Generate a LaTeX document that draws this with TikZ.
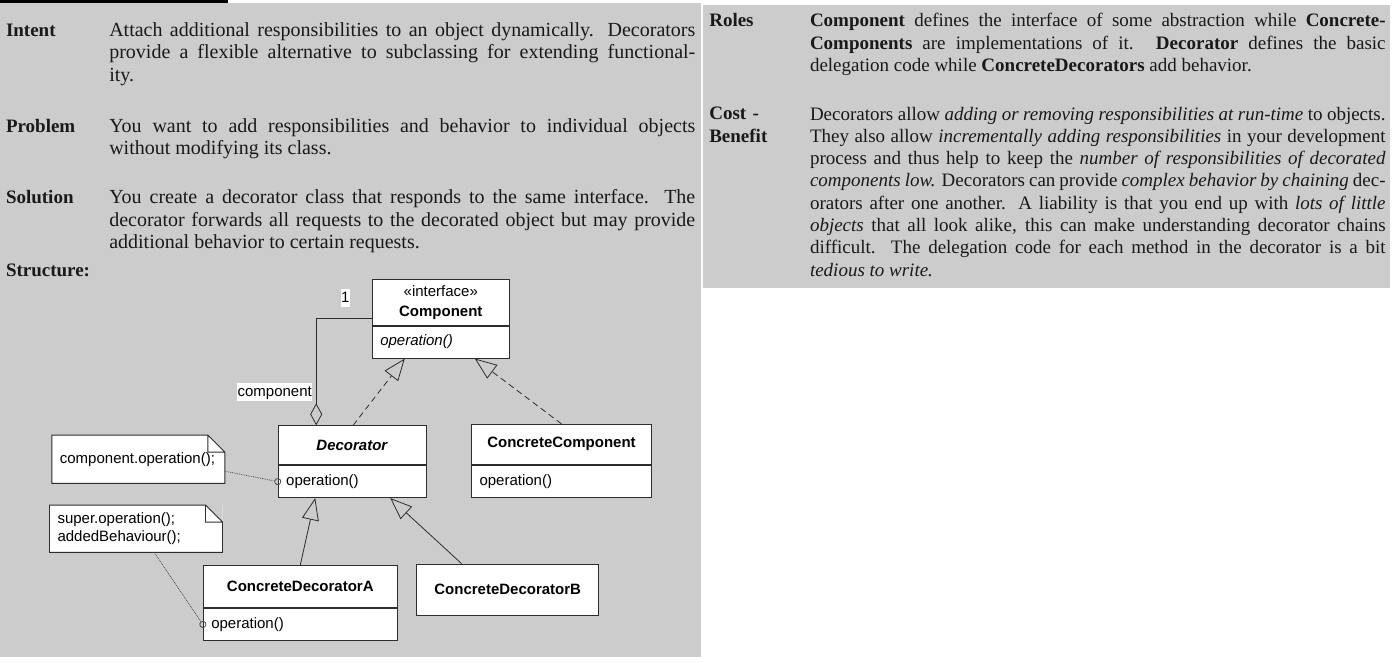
\documentclass[tikz,border=0pt]{standalone}
\usepackage{fontspec}
\setmainfont{Liberation Serif}
\newfontfamily\umlfam{Liberation Sans}
\usetikzlibrary{arrows.meta,positioning}

\definecolor{panel}{RGB}{204,204,204}
\definecolor{ink}{RGB}{45,45,45}
\newcommand{\umlfont}{\umlfam\fontsize{15}{18}\selectfont}
\newcommand{\notefont}{\umlfam\fontsize{15}{17.7}\selectfont}
\newcommand{\bodyfont}{\fontsize{20}{22.25}\selectfont}
\newcommand{\sidefont}{\fontsize{19}{22.3}\selectfont}
\newcommand{\headfont}{\fontsize{19}{22.25}\selectfont\bfseries}
\tolerance=9999

\begin{document}
\begin{tikzpicture}[x=1pt,y=-1pt,
    txt/.style={anchor=north west,inner sep=0pt,outer sep=0pt,text width=#1,align=justify,font=\bodyfont,text=black!90},
    head/.style={anchor=north west,inner sep=0pt,outer sep=0pt,text width=96pt,align=left,font=\headfont,text=black!90},
    cls/.style={draw=ink,fill=white,line width=0.9pt,font=\umlfont\bfseries,minimum height=40pt,inner sep=2pt},
    ops/.style={draw=ink,fill=white,line width=0.9pt,font=\umlfont,minimum height=32pt,inner xsep=8pt,inner ysep=2pt,text width=#1,align=left},
    note/.style={fill=white,inner xsep=8pt,inner ysep=0pt,outer sep=0pt,font=\notefont,text width=157pt,align=left},
    notebox/.style={draw=ink,line width=0.9pt},
    mult/.style={fill=white,inner xsep=0.6pt,inner ysep=1.7pt,text height=11pt,text depth=3pt,font=\umlfont},
    real/.style={draw=ink,line width=0.8pt,dash pattern=on 6pt off 4pt,-{Triangle[open,length=22pt,width=17pt]}},
    gen/.style={draw=ink,line width=0.8pt,-{Triangle[open,length=22pt,width=17pt]}},
    agg/.style={draw=ink,line width=0.8pt,-{Diamond[open,length=22pt,width=12pt]}},
    link/.style={draw=black!70,line width=0.8pt,densely dotted,-{Circle[open,length=7pt]},shorten >=-3.5pt}]

  \useasboundingbox (0,0) rectangle (1398,662);
  \fill[white] (0,0) rectangle (1398,662);
  \fill[black] (0,0) rectangle (227.7,3.3);
  \fill[panel] (0,3.3) rectangle (701,657.3);
  \fill[panel] (703.3,5) rectangle (1390,288.3);

  \node[head] (intent) at (6,21.1) {\strut Intent};
  \node[txt=586pt] (intenttxt) at (109.3,21.1) {\strut Attach additional responsibilities to an object dynamically. Decorators\linebreak provide a flexible alternative to subclassing for extending functional-\linebreak ity.};
  \node[head] (problem) at (6,116.7) {\strut Problem};
  \node[txt=586pt] (problemtxt) at (109.3,116.7) {\strut You want to add responsibilities and behavior to individual objects\linebreak without modifying its class.};
  \node[head] (solution) at (6,188.4) {\strut Solution};
  \node[txt=586pt] (solutiontxt) at (109.3,188.4) {\strut You create a decorator class that responds to the same interface. The\linebreak decorator forwards all requests to the decorated object but may provide\linebreak additional behavior to certain requests.};
  \node[head] (structure) at (6,261.1) {\strut Structure:};

  \node[head] (roles) at (709.3,11.1) {\strut Roles};
  \node[txt=575.6pt,font=\sidefont] (rolestxt) at (810,11.1) {\strut \textbf{Component} defines the interface of some abstraction while \textbf{Concrete-}\linebreak \textbf{Components} are implementations of it. \textbf{Decorator} defines the basic\linebreak delegation code while \textbf{ConcreteDecorators} add behavior.};
  \node[head] (cost) at (709.3,104.4) {\strut Cost -\\Benefit};
  \node[txt=575.6pt,font=\sidefont] (costtxt) at (810,104.4) {\strut Decorators allow \textit{adding or removing responsibilities at run-time} to objects.\linebreak They also allow \textit{incrementally adding responsibilities} in your development\linebreak process and thus help to keep the \textit{number of responsibilities of decorated}\linebreak \textit{components low.} Decorators can provide \textit{complex behavior by chaining} dec-\linebreak orators after one another. A liability is that you end up with \textit{lots of little}\linebreak \textit{objects} that all look alike, this can make understanding decorator chains\linebreak difficult. The delegation code for each method in the decorator is a bit\linebreak \textit{tedious to write.}};

  \node[cls,minimum width=137pt,minimum height=46pt,font=\umlfont,align=center] (comp) at (440.8,302.2) {«interface»\\[2pt]\textbf{Component}};
  \node[ops=121pt,below=0pt of comp] (compop) {\textit{operation()}};
  \node[cls,minimum width=148pt,minimum height=39pt] (dec) at (352.2,445.2) {\textit{Decorator}};
  \node[ops=132pt,below=0pt of dec] (decop) {operation()};
  \node[cls,minimum width=180pt] (cc) at (561.5,444.3) {ConcreteComponent};
  \node[ops=164pt,below=0pt of cc] (ccop) {operation()};
  \node[cls,minimum width=194pt,minimum height=42pt] (cda) at (300.3,586.5) {ConcreteDecoratorA};
  \node[ops=178pt,below=0pt of cda] (cdaop) {operation()};
  \node[cls,minimum width=182pt,minimum height=51pt] (cdb) at (507.7,589.7) {ConcreteDecoratorB};

  \node[note,minimum height=48.3pt] (n1) at (138.4,459.2) {component.operation();};
  \fill[panel] ([xshift=-17pt]n1.north east) -- (n1.north east) -- ([yshift=-17pt]n1.north east) -- cycle;
  \draw[notebox] (n1.north west) -- ([xshift=-17pt]n1.north east) -- ([yshift=-17pt]n1.north east)
    -- (n1.south east) -- (n1.south west) -- cycle
    ([xshift=-17pt]n1.north east) |- ([yshift=-17pt]n1.north east);
  \node[note,minimum height=47.3pt] (n2) at (136,528.7) {super.operation();\\addedBehaviour();};
  \fill[panel] ([xshift=-17pt]n2.north east) -- (n2.north east) -- ([yshift=-17pt]n2.north east) -- cycle;
  \draw[notebox] (n2.north west) -- ([xshift=-17pt]n2.north east) -- ([yshift=-17pt]n2.north east)
    -- (n2.south east) -- (n2.south west) -- cycle
    ([xshift=-17pt]n2.north east) |- ([yshift=-17pt]n2.north east);

  \draw[agg] ([yshift=-16pt]comp.west) -| ([xshift=-36pt]dec.north);
  \node[mult] (one) at (345.3,298) {1};
  \node[mult] (role) at (274.7,392) {component};

  \path ([xshift=1pt]dec.north) edge[real] ([xshift=-36pt]compop.south)
  (cc.north) edge[real] ([xshift=34pt]compop.south)
  (cda.north) edge[gen] ([xshift=-37pt]decop.south)
  ([xshift=-46pt]cdb.north) edge[gen] ([xshift=38pt]decop.south)
  ([yshift=-12pt]n1.east) edge[link] (decop.west)
  ([xshift=18pt]n2.south) edge[link] (cdaop.west);

\end{tikzpicture}
\end{document}
